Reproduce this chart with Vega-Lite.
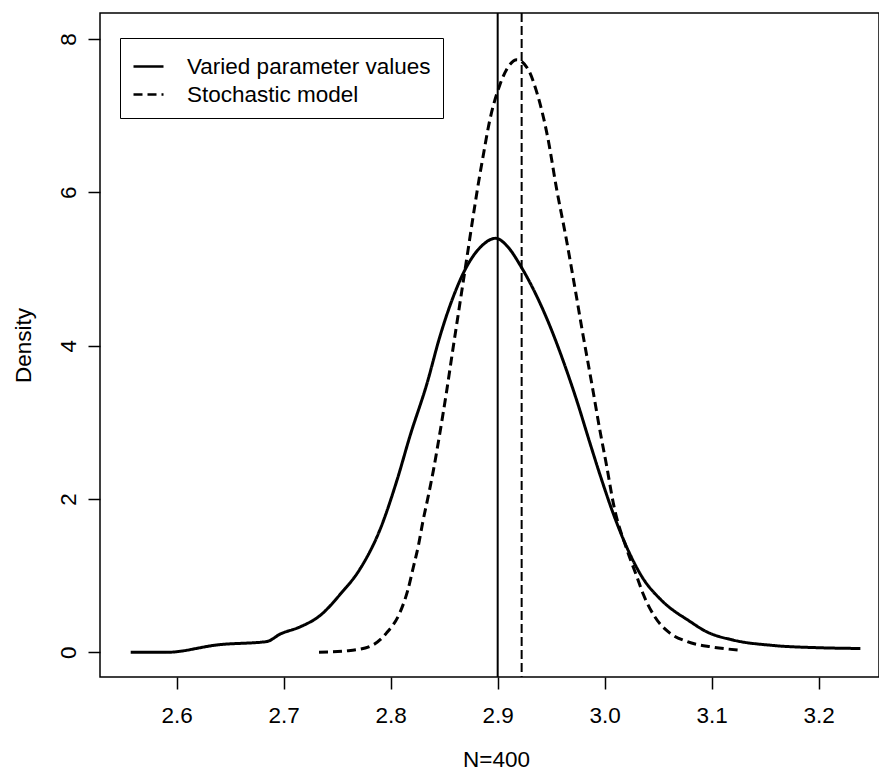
{
  "$schema": "https://vega.github.io/schema/vega-lite/v6.json",
  "width": 779,
  "height": 664,
  "autosize": {"type": "none"},
  "padding": {"left": 100, "top": 13, "right": 0, "bottom": 95},
  "background": "white",
  "config": {
    "font": "Liberation Sans",
    "view": {"stroke": "black", "strokeWidth": 1.5},
    "axis": {
      "grid": false,
      "domain": false,
      "tickColor": "black",
      "tickSize": 12,
      "tickWidth": 1.5,
      "labelColor": "black",
      "labelFontSize": 22.5,
      "labelFont": "Liberation Sans",
      "titleFontSize": 22.5,
      "titleFont": "Liberation Sans",
      "titleFontWeight": "normal",
      "titleColor": "black"
    }
  },
  "datasets": {
    "curves": [
      {"series": "Varied parameter values", "x": 2.557, "density": 0.00},
      {"series": "Varied parameter values", "x": 2.590, "density": 0.00},
      {"series": "Varied parameter values", "x": 2.640, "density": 0.10},
      {"series": "Varied parameter values", "x": 2.684, "density": 0.14},
      {"series": "Varied parameter values", "x": 2.697, "density": 0.24},
      {"series": "Varied parameter values", "x": 2.715, "density": 0.33},
      {"series": "Varied parameter values", "x": 2.734, "density": 0.48},
      {"series": "Varied parameter values", "x": 2.753, "density": 0.76},
      {"series": "Varied parameter values", "x": 2.771, "density": 1.08},
      {"series": "Varied parameter values", "x": 2.790, "density": 1.60},
      {"series": "Varied parameter values", "x": 2.806, "density": 2.25},
      {"series": "Varied parameter values", "x": 2.818, "density": 2.82},
      {"series": "Varied parameter values", "x": 2.834, "density": 3.51},
      {"series": "Varied parameter values", "x": 2.846, "density": 4.12},
      {"series": "Varied parameter values", "x": 2.858, "density": 4.62},
      {"series": "Varied parameter values", "x": 2.871, "density": 5.03},
      {"series": "Varied parameter values", "x": 2.885, "density": 5.30},
      {"series": "Varied parameter values", "x": 2.898, "density": 5.40},
      {"series": "Varied parameter values", "x": 2.910, "density": 5.28},
      {"series": "Varied parameter values", "x": 2.921, "density": 5.05},
      {"series": "Varied parameter values", "x": 2.936, "density": 4.66},
      {"series": "Varied parameter values", "x": 2.949, "density": 4.25},
      {"series": "Varied parameter values", "x": 2.961, "density": 3.81},
      {"series": "Varied parameter values", "x": 2.974, "density": 3.28},
      {"series": "Varied parameter values", "x": 2.986, "density": 2.74},
      {"series": "Varied parameter values", "x": 2.996, "density": 2.30},
      {"series": "Varied parameter values", "x": 3.008, "density": 1.81},
      {"series": "Varied parameter values", "x": 3.021, "density": 1.36},
      {"series": "Varied parameter values", "x": 3.036, "density": 0.96},
      {"series": "Varied parameter values", "x": 3.053, "density": 0.68},
      {"series": "Varied parameter values", "x": 3.080, "density": 0.40},
      {"series": "Varied parameter values", "x": 3.095, "density": 0.27},
      {"series": "Varied parameter values", "x": 3.120, "density": 0.16},
      {"series": "Varied parameter values", "x": 3.157, "density": 0.09},
      {"series": "Varied parameter values", "x": 3.200, "density": 0.06},
      {"series": "Varied parameter values", "x": 3.239, "density": 0.05},
      {"series": "Stochastic model", "x": 2.733, "density": 0.00},
      {"series": "Stochastic model", "x": 2.760, "density": 0.02},
      {"series": "Stochastic model", "x": 2.781, "density": 0.08},
      {"series": "Stochastic model", "x": 2.796, "density": 0.25},
      {"series": "Stochastic model", "x": 2.809, "density": 0.53},
      {"series": "Stochastic model", "x": 2.816, "density": 0.81},
      {"series": "Stochastic model", "x": 2.821, "density": 1.10},
      {"series": "Stochastic model", "x": 2.826, "density": 1.40},
      {"series": "Stochastic model", "x": 2.830, "density": 1.70},
      {"series": "Stochastic model", "x": 2.835, "density": 2.03},
      {"series": "Stochastic model", "x": 2.840, "density": 2.38},
      {"series": "Stochastic model", "x": 2.845, "density": 2.78},
      {"series": "Stochastic model", "x": 2.852, "density": 3.38},
      {"series": "Stochastic model", "x": 2.858, "density": 3.94},
      {"series": "Stochastic model", "x": 2.865, "density": 4.58},
      {"series": "Stochastic model", "x": 2.872, "density": 5.22},
      {"series": "Stochastic model", "x": 2.877, "density": 5.68},
      {"series": "Stochastic model", "x": 2.882, "density": 6.12},
      {"series": "Stochastic model", "x": 2.887, "density": 6.52},
      {"series": "Stochastic model", "x": 2.892, "density": 6.90},
      {"series": "Stochastic model", "x": 2.902, "density": 7.40},
      {"series": "Stochastic model", "x": 2.911, "density": 7.66},
      {"series": "Stochastic model", "x": 2.918, "density": 7.73},
      {"series": "Stochastic model", "x": 2.929, "density": 7.59},
      {"series": "Stochastic model", "x": 2.936, "density": 7.33},
      {"series": "Stochastic model", "x": 2.947, "density": 6.70},
      {"series": "Stochastic model", "x": 2.955, "density": 6.05},
      {"series": "Stochastic model", "x": 2.964, "density": 5.40},
      {"series": "Stochastic model", "x": 2.972, "density": 4.77},
      {"series": "Stochastic model", "x": 2.980, "density": 4.12},
      {"series": "Stochastic model", "x": 2.988, "density": 3.50},
      {"series": "Stochastic model", "x": 2.996, "density": 2.86},
      {"series": "Stochastic model", "x": 3.002, "density": 2.42},
      {"series": "Stochastic model", "x": 3.008, "density": 1.95},
      {"series": "Stochastic model", "x": 3.021, "density": 1.33},
      {"series": "Stochastic model", "x": 3.030, "density": 0.99},
      {"series": "Stochastic model", "x": 3.036, "density": 0.76},
      {"series": "Stochastic model", "x": 3.047, "density": 0.46},
      {"series": "Stochastic model", "x": 3.061, "density": 0.25},
      {"series": "Stochastic model", "x": 3.077, "density": 0.14},
      {"series": "Stochastic model", "x": 3.100, "density": 0.07},
      {"series": "Stochastic model", "x": 3.125, "density": 0.03}
    ],
    "solidLine": [{"x": 2.9}],
    "dashedLine": [{"x": 2.9224}]
  },
  "layer": [
    {
      "data": {"name": "curves"},
      "mark": {"type": "line", "strokeWidth": 3, "color": "black", "interpolate": "monotone"},
      "encoding": {
        "x": {
          "field": "x",
          "type": "quantitative",
          "scale": {"domain": [2.5283, 3.2564], "nice": false, "zero": false},
          "axis": {
            "title": "N=400",
            "values": [2.6, 2.7, 2.8, 2.9, 3.0, 3.1, 3.2],
            "format": ".1f",
            "labelPadding": 15,
            "labelBaseline": "top",
            "titleX": 396,
            "titleY": 82,
            "titleBaseline": "middle",
            "titleAnchor": "middle",
            "titleAlign": "center"
          }
        },
        "y": {
          "field": "density",
          "type": "quantitative",
          "scale": {"domain": [-0.322, 8.339], "nice": false, "zero": false},
          "axis": {
            "title": "Density",
            "values": [0, 2, 4, 6, 8],
            "labelAngle": 270,
            "labelAlign": "center",
            "labelBaseline": "middle",
            "labelPadding": 20,
            "titleX": -77,
            "titleY": 332,
            "titleAngle": 270,
            "titleBaseline": "middle",
            "titleAlign": "center",
            "titleAnchor": "middle"
          }
        },
        "strokeDash": {
          "field": "series",
          "type": "nominal",
          "scale": {
            "domain": ["Varied parameter values", "Stochastic model"],
            "range": [[1, 0], [9, 5]]
          },
          "legend": {
            "title": null,
            "orient": "none",
            "legendX": 20,
            "legendY": 25,
            "strokeColor": "black",
            "fillColor": "white",
            "padding": 12,
            "symbolType": "stroke",
            "symbolSize": 900,
            "symbolStrokeWidth": 2.5,
            "symbolStrokeColor": "black",
            "labelFontSize": 22.5,
            "labelFont": "Liberation Sans",
            "labelColor": "black",
            "labelOffset": 22,
            "labelLimit": 0,
            "rowPadding": 0
          }
        }
      }
    },
    {
      "data": {"name": "solidLine"},
      "mark": {"type": "rule", "strokeWidth": 2, "color": "black"},
      "encoding": {"x": {"field": "x", "type": "quantitative"}}
    },
    {
      "data": {"name": "dashedLine"},
      "mark": {"type": "rule", "strokeWidth": 2, "color": "black", "strokeDash": [9, 4]},
      "encoding": {"x": {"field": "x", "type": "quantitative"}}
    }
  ]
}
